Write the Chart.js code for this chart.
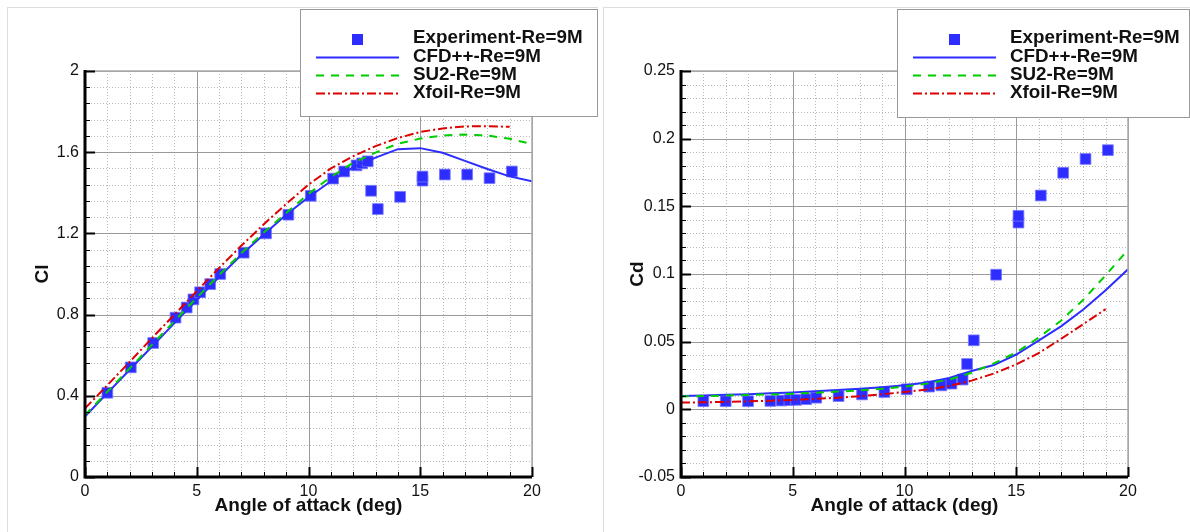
<!DOCTYPE html>
<html>
<head>
<meta charset="utf-8">
<script src="https://cdn.jsdelivr.net/npm/chart.js@4.4.0/dist/chart.umd.min.js"></script>
<style>
  body { margin: 0; background: #fff; width: 1190px; height: 532px; overflow: hidden; position: relative; }
  .panel { position: absolute; top: 0; height: 532px; }
  .frame { position: absolute; top: 7px; height: 525px; border-left: 1px solid #ddd; border-top: 1px solid #ddd; }
</style>
</head>
<body>
<div class="frame" style="left:7px;width:590px"></div>
<div class="frame" style="left:603px;width:587px"></div>
<div class="panel" style="left:0;width:600px"><canvas id="clChart" width="600" height="532"></canvas></div>
<div class="panel" style="left:600px;width:590px"><canvas id="cdChart" width="590" height="532"></canvas></div>
<script>
// angles of attack (deg)
const alphaCfd = [0, 1, 2, 3, 4, 5, 6, 7, 8, 9, 10, 11, 12, 13, 14, 15, 16, 17, 18, 19, 20];
const alphaXfoil = [0, 1, 2, 3, 4, 5, 6, 7, 8, 9, 10, 11, 12, 13, 14, 15, 16, 17, 18, 19];
const alphaExpCl = [1.0, 2.05, 3.05, 4.05, 4.55, 4.85, 5.15, 5.6, 6.05, 7.1, 8.1, 9.1, 10.1, 11.1, 11.6,
                    12.15, 12.4, 12.65, 12.8, 13.1, 14.1, 15.1, 15.1, 16.1, 17.1, 18.1, 19.1];
const alphaExpCd = [1.0, 2.0, 3.0, 4.0, 4.5, 4.85, 5.15, 5.6, 6.05, 7.05, 8.1, 9.1, 10.1, 11.1, 11.65,
                    12.1, 12.6, 12.8, 13.1, 14.1, 15.1, 15.1, 16.1, 17.1, 18.1, 19.1];

// lift
const clExp = [0.415, 0.54, 0.66, 0.785, 0.835, 0.875, 0.91, 0.95, 1.0, 1.105, 1.2, 1.292, 1.385, 1.47, 1.505,
               1.535, 1.545, 1.555, 1.41, 1.32, 1.38, 1.46, 1.48, 1.49, 1.49, 1.472, 1.505];
const clCfd = [0.298, 0.413, 0.528, 0.643, 0.758, 0.872, 0.985, 1.095, 1.195, 1.292, 1.378, 1.457, 1.525, 1.573,
               1.615, 1.62, 1.597, 1.557, 1.517, 1.481, 1.457];
const clSu2 = [0.305, 0.42, 0.535, 0.652, 0.768, 0.883, 0.995, 1.103, 1.205, 1.3, 1.395, 1.478, 1.548, 1.598,
               1.642, 1.667, 1.682, 1.687, 1.682, 1.666, 1.64];
const clXfoil = [0.338, 0.452, 0.567, 0.685, 0.8, 0.915, 1.03, 1.14, 1.245, 1.345, 1.44, 1.52, 1.58, 1.63,
                 1.67, 1.7, 1.717, 1.727, 1.728, 1.725];

// drag
const cdExp = [0.006, 0.006, 0.006, 0.0062, 0.0065, 0.0068, 0.007, 0.0075, 0.0086, 0.0098, 0.011, 0.0128, 0.0148,
               0.0168, 0.0177, 0.019, 0.022, 0.0335, 0.051, 0.0995, 0.138, 0.143, 0.158, 0.1748, 0.185, 0.1915];
const cdCfd = [0.0098, 0.0102, 0.0107, 0.0112, 0.0118, 0.0125, 0.0133, 0.0142, 0.0152, 0.0163, 0.0178, 0.0198,
               0.0232, 0.0283, 0.0327, 0.0405, 0.0507, 0.0613, 0.0738, 0.088, 0.1035];
const cdSu2 = [0.0095, 0.0098, 0.0102, 0.0106, 0.011, 0.0116, 0.0123, 0.0131, 0.014, 0.0152, 0.0168, 0.019,
               0.022, 0.027, 0.034, 0.042, 0.053, 0.0655, 0.081, 0.099, 0.118];
const cdXfoil = [0.005, 0.0052, 0.0055, 0.0059, 0.0064, 0.007, 0.0077, 0.0086, 0.0097, 0.0111, 0.0128, 0.0147,
                 0.0172, 0.0212, 0.0265, 0.0332, 0.0415, 0.052, 0.063, 0.074];

const seriesNames = ["Experiment-Re=9M", "CFD++-Re=9M", "SU2-Re=9M", "Xfoil-Re=9M"];
const FONT = "'Liberation Sans', Arial, sans-serif";

function pts(xs, ys) {
    return xs.map((x, i) => ({ x: x, y: ys[i] }));
}

function steps(min, max, step) {
    const out = [];
    const n = Math.round((max - min) / step);
    for (let i = 0; i <= n; i++) out.push(min + i * step);
    return out;
}

function isMajor(v, major) {
    const r = v / major;
    return Math.abs(r - Math.round(r)) < 1e-6;
}

// grid, frame and inward ticks
const frameGrid = {
    id: "frameGrid",
    beforeDatasetsDraw(chart, args, o) {
        const { ctx, chartArea: a, scales: { x, y } } = chart;
        const xs = steps(x.min, x.max, o.xMinor);
        const ys = steps(y.min, y.max, o.yMinor);
        ctx.save();
        ctx.lineWidth = 1;
        ctx.strokeStyle = "#b8b8b8";
        ctx.setLineDash([1, 2]);
        ctx.beginPath();
        xs.forEach(v => {
            if (isMajor(v, o.xMajor)) return;
            const p = Math.round(x.getPixelForValue(v)) + 0.5;
            ctx.moveTo(p, a.top); ctx.lineTo(p, a.bottom);
        });
        ys.forEach(v => {
            if (isMajor(v, o.yMajor)) return;
            const p = Math.round(y.getPixelForValue(v)) + 0.5;
            ctx.moveTo(a.left, p); ctx.lineTo(a.right, p);
        });
        ctx.stroke();
        ctx.setLineDash([]);
        ctx.strokeStyle = "#9a9a9a";
        ctx.beginPath();
        xs.forEach(v => {
            if (!isMajor(v, o.xMajor)) return;
            const p = Math.round(x.getPixelForValue(v)) + 0.5;
            ctx.moveTo(p, a.top); ctx.lineTo(p, a.bottom);
        });
        ys.forEach(v => {
            if (!isMajor(v, o.yMajor)) return;
            const p = Math.round(y.getPixelForValue(v)) + 0.5;
            ctx.moveTo(a.left, p); ctx.lineTo(a.right, p);
        });
        ctx.stroke();
        ctx.restore();
    },
    afterDatasetsDraw(chart, args, o) {
        const { ctx, chartArea: a, scales: { x, y } } = chart;
        ctx.save();
        // top / right edges
        ctx.strokeStyle = "#aaa";
        ctx.lineWidth = 1.5;
        ctx.beginPath();
        ctx.moveTo(a.left, a.top); ctx.lineTo(a.right, a.top); ctx.lineTo(a.right, a.bottom);
        ctx.stroke();
        // ticks
        ctx.strokeStyle = "#000";
        steps(x.min, x.max, o.xMinor).forEach(v => {
            const major = isMajor(v, o.xMajor);
            const p = Math.round(x.getPixelForValue(v)) + 0.5;
            ctx.lineWidth = major ? 2 : 1;
            ctx.beginPath();
            ctx.moveTo(p, a.bottom); ctx.lineTo(p, a.bottom - (major ? 10 : 5));
            ctx.stroke();
        });
        steps(y.min, y.max, o.yMinor).forEach(v => {
            const major = isMajor(v, o.yMajor);
            const p = Math.round(y.getPixelForValue(v)) + 0.5;
            ctx.lineWidth = major ? 2 : 1;
            ctx.beginPath();
            ctx.moveTo(a.left, p); ctx.lineTo(a.left + (major ? 10 : 5), p);
            ctx.stroke();
        });
        // left / bottom axes
        ctx.lineWidth = 3;
        ctx.beginPath();
        ctx.moveTo(a.left, a.top - 1); ctx.lineTo(a.left, a.bottom); ctx.lineTo(a.right, a.bottom);
        ctx.stroke();
        ctx.restore();
    }
};

// boxed legend in the upper right
const boxLegend = {
    id: "boxLegend",
    afterDraw(chart, args, o) {
        const ctx = chart.ctx;
        ctx.save();
        ctx.fillStyle = "#fff";
        ctx.fillRect(o.left, o.top, o.width, o.height);
        ctx.strokeStyle = "#999";
        ctx.lineWidth = 1;
        ctx.strokeRect(o.left + 0.5, o.top + 0.5, o.width, o.height);
        ctx.font = "bold 18.8px " + FONT;
        ctx.textBaseline = "middle";
        chart.data.datasets.forEach((ds, i) => {
            const yr = o.rows[i];
            if (ds.showLine === false) {
                ctx.fillStyle = ds.backgroundColor;
                ctx.fillRect(o.left + 52, yr - 4, 11, 11);
            } else {
                ctx.strokeStyle = ds.borderColor;
                ctx.lineWidth = 2;
                ctx.setLineDash(ds.borderDash || []);
                ctx.beginPath();
                ctx.moveTo(o.left + 16, yr + 0.5);
                ctx.lineTo(o.left + 99, yr + 0.5);
                ctx.stroke();
                ctx.setLineDash([]);
            }
            ctx.fillStyle = "#111";
            ctx.fillText(ds.label, o.left + 113, yr);
        });
        ctx.restore();
    }
};

const BLUE = "rgb(45,45,255)";
const GREEN = "rgb(0,205,0)";
const RED = "rgb(220,0,0)";

function makeDatasets(exp, cfd, su2, xfoil) {
    return [
        { label: seriesNames[0], data: exp, showLine: false, pointStyle: "rect", pointRadius: 7.6,
          backgroundColor: BLUE, borderColor: "rgba(120,120,255,0.8)", borderWidth: 1, order: 4 },
        { label: seriesNames[1], data: cfd, showLine: true, pointRadius: 0, borderColor: BLUE,
          borderWidth: 2, tension: 0, order: 3 },
        { label: seriesNames[2], data: su2, showLine: true, pointRadius: 0, borderColor: GREEN,
          borderWidth: 2, borderDash: [8, 7], tension: 0, order: 2 },
        { label: seriesNames[3], data: xfoil, showLine: true, pointRadius: 0, borderColor: RED,
          borderWidth: 2, borderDash: [9, 3, 2, 3], tension: 0, order: 1 }
    ];
}

function makeChart(id, c) {
    return new Chart(document.getElementById(id), {
        type: "scatter",
        data: { datasets: c.datasets },
        options: {
            responsive: false,
            animation: false,
            layout: { padding: { left: c.padLeft, right: c.padRight, top: 71, bottom: 15 } },
            plugins: {
                legend: { display: false },
                tooltip: { enabled: false },
                frameGrid: { xMinor: 1, xMajor: 5, yMinor: c.yMinor, yMajor: c.yMajor },
                boxLegend: c.legend
            },
            scales: {
                x: {
                    type: "linear", min: 0, max: 20,
                    ticks: { stepSize: 5, padding: 5, color: "#111", font: { family: FONT, size: 16 }, maxRotation: 0 },
                    grid: { display: false, drawTicks: false },
                    border: { display: false },
                    title: { display: true, text: "Angle of attack (deg)", color: "#111", padding: 0,
                             font: { family: FONT, size: 19, weight: "bold" } },
                    afterFit(s) { s.height = 40; }
                },
                y: {
                    type: "linear", min: c.yMin, max: c.yMax,
                    ticks: { stepSize: c.yMajor, padding: 6, color: "#111", font: { family: FONT, size: 16 },
                             callback: v => String(Number(v.toFixed(3))) },
                    grid: { display: false, drawTicks: false },
                    border: { display: false },
                    title: { display: true, text: c.yTitle, color: "#111", padding: 0,
                             font: { family: FONT, size: 19, weight: "bold" } },
                    afterFit(s) { s.width = c.yWidth; }
                }
            }
        },
        plugins: [frameGrid, boxLegend]
    });
}

makeChart("clChart", {
    datasets: makeDatasets(pts(alphaExpCl, clExp), pts(alphaCfd, clCfd), pts(alphaCfd, clSu2), pts(alphaXfoil, clXfoil)),
    padLeft: 31, padRight: 68, yWidth: 54,
    yMin: 0, yMax: 2, yMajor: 0.4, yMinor: 0.08, yTitle: "Cl",
    legend: { left: 300, top: 9, width: 297, height: 107, rows: [38, 57, 75, 93] }
});

makeChart("cdChart", {
    datasets: makeDatasets(pts(alphaExpCd, cdExp), pts(alphaCfd, cdCfd), pts(alphaCfd, cdSu2), pts(alphaXfoil, cdXfoil)),
    padLeft: 26, padRight: 62, yWidth: 55,
    yMin: -0.05, yMax: 0.25, yMajor: 0.05, yMinor: 0.01, yTitle: "Cd",
    legend: { left: 297, top: 9, width: 292, height: 108, rows: [38, 57, 75, 93] }
});
</script>
</body>
</html>
